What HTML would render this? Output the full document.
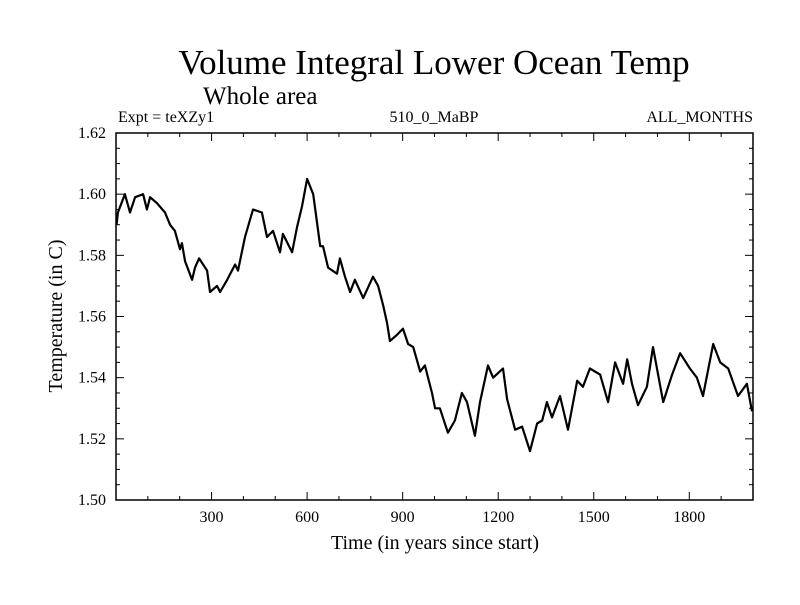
<!DOCTYPE html>
<html><head><meta charset="utf-8"><style>
body{margin:0;background:#fff}
svg text{font-family:"Liberation Serif",serif;fill:#000}
</style></head><body>
<svg id="c" width="800" height="600" viewBox="0 0 800 600">
<text x="434" y="74" font-size="35" text-anchor="middle">Volume Integral Lower Ocean Temp</text>
<text x="203" y="104" font-size="25">Whole area</text>
<text x="118" y="122" font-size="16">Expt = teXZy1</text>
<text x="434" y="122" font-size="16" text-anchor="middle">510_0_MaBP</text>
<text x="753" y="122" font-size="16" text-anchor="end">ALL_MONTHS</text>
<text x="435" y="549" font-size="20" text-anchor="middle">Time (in years since start)</text>
<text transform="translate(62,316) rotate(-90)" font-size="20" text-anchor="middle">Temperature (in C)</text>
<g id="axes"></g>
<path id="line" fill="none" stroke="#000" stroke-width="2.2" stroke-linejoin="round"/>
<rect x="116" y="133" width="637" height="367" fill="none" stroke="#000" stroke-width="1.5"/>
</svg>
<script>
const years=[2,6,28,44,60,85,97,107,129,154,170,185,201,207,217,239,248,261,286,295,317,327,349,374,383,405,430,458,474,493,515,524,553,568,584,600,619,641,650,666,694,703,719,735,750,776,807,823,838,851,860,882,901,917,933,955,970,992,1002,1017,1042,1064,1086,1102,1127,1143,1168,1184,1215,1228,1253,1275,1300,1322,1338,1353,1369,1394,1419,1448,1466,1488,1520,1545,1567,1592,1605,1620,1639,1667,1686,1718,1746,1771,1802,1824,1843,1875,1897,1922,1953,1981,1997];
const temps=[1.590,1.594,1.600,1.594,1.599,1.600,1.595,1.599,1.597,1.594,1.590,1.588,1.582,1.584,1.578,1.572,1.576,1.579,1.575,1.568,1.570,1.568,1.572,1.577,1.575,1.586,1.595,1.594,1.586,1.588,1.581,1.587,1.581,1.589,1.596,1.605,1.600,1.583,1.583,1.576,1.574,1.579,1.573,1.568,1.572,1.566,1.573,1.570,1.564,1.558,1.552,1.554,1.556,1.551,1.550,1.542,1.544,1.535,1.530,1.530,1.522,1.526,1.535,1.532,1.521,1.532,1.544,1.540,1.543,1.533,1.523,1.524,1.516,1.525,1.526,1.532,1.527,1.534,1.523,1.539,1.537,1.543,1.541,1.532,1.545,1.538,1.546,1.538,1.531,1.537,1.550,1.532,1.541,1.548,1.543,1.540,1.534,1.551,1.545,1.543,1.534,1.538,1.529];
const xTicks=[300,600,900,1200,1500,1800];
const yTicks=[1.50,1.52,1.54,1.56,1.58,1.60,1.62];
const X0=116,X1=753,Y0=500,Y1=133,xMin=0,xMax=2000,yMin=1.50,yMax=1.62;
const sx=v=>X0+(v-xMin)/(xMax-xMin)*(X1-X0);
const sy=v=>Y0-(v-yMin)/(yMax-yMin)*(Y0-Y1);
const NS='http://www.w3.org/2000/svg';
const ax=document.getElementById('axes');
function ln(x1,y1,x2,y2,name){const l=document.createElementNS(NS,'line');
l.setAttribute('x1',x1);l.setAttribute('y1',y1);l.setAttribute('x2',x2);l.setAttribute('y2',y2);
l.setAttribute('stroke','#000');l.setAttribute('stroke-width','1');


ax.appendChild(l);}
function tx(x,y,s,anchor,name){const t=document.createElementNS(NS,'text');
t.setAttribute('x',x);t.setAttribute('y',y);t.setAttribute('font-size','16');t.setAttribute('text-anchor',anchor);t.textContent=s;


ax.appendChild(t);}
for(let v=100;v<2000;v+=100){const x=sx(v),L=(v%300===0)?8:4;
ln(x,Y0,x,Y0-L,'x-tick');ln(x,Y1,x,Y1+L,'x-tick-top');}
xTicks.forEach(v=>tx(sx(v),Y0+22,String(v),'middle','x-tick-label'));
for(let i=0;i<=24;i++){const v=yMin+i*0.005,y=sy(v),L=(i%4===0)?8:4;
ln(X0,y,X0+L,y,'y-tick');ln(X1,y,X1-L,y,'y-tick-right');}
yTicks.forEach(v=>tx(X0-10,sy(v)+5,v.toFixed(2),'end','y-tick-label'));
document.getElementById('line').setAttribute('d',years.map((y,i)=>(i?'L':'M')+sx(y).toFixed(1)+','+sy(temps[i]).toFixed(1)).join(''));
</script>
</body></html>
